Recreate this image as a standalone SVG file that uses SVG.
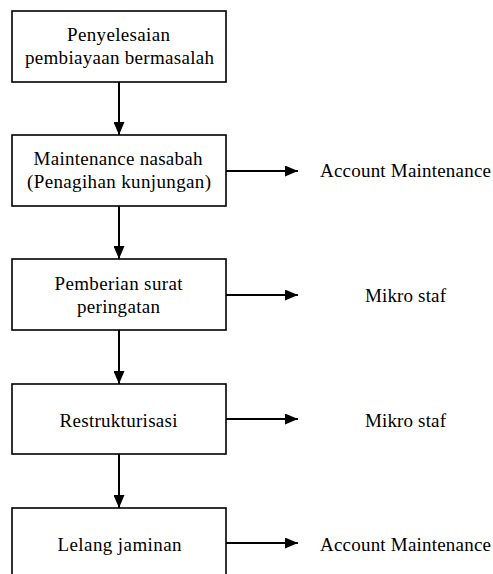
<svg xmlns="http://www.w3.org/2000/svg" width="493" height="574" viewBox="0 0 493 574">
<style>
.box{fill:#fff;stroke:#000;stroke-width:1.6}
.ln{stroke:#000;stroke-width:2;fill:none}
</style>
<defs>
<marker id="ah" markerWidth="13" markerHeight="11" refX="13" refY="5.5" orient="auto" markerUnits="userSpaceOnUse">
<path d="M0,0 L13,5.5 L0,11 Z" fill="#000"/>
</marker>
</defs>
<rect width="493" height="574" fill="#fff"/>
<g id="connectors">
<line class="ln" x1="119" y1="82" x2="119" y2="135" marker-end="url(#ah)"/>
<line class="ln" x1="119" y1="206" x2="119" y2="259" marker-end="url(#ah)"/>
<line class="ln" x1="119" y1="330" x2="119" y2="384" marker-end="url(#ah)"/>
<line class="ln" x1="119" y1="454" x2="119" y2="508" marker-end="url(#ah)"/>
<line class="ln" x1="226" y1="171" x2="298" y2="171" marker-end="url(#ah)"/>
<line class="ln" x1="226" y1="295" x2="298" y2="295" marker-end="url(#ah)"/>
<line class="ln" x1="226" y1="419" x2="298" y2="419" marker-end="url(#ah)"/>
<line class="ln" x1="226" y1="543" x2="298" y2="543" marker-end="url(#ah)"/>
</g>
<g font-family="Liberation Serif" font-size="19" fill="#000">
<g id="n1" text-anchor="middle">
<rect class="box" x="12" y="11" width="214" height="71"/>
<text x="118.5" y="41" textLength="103" lengthAdjust="spacing">Penyelesaian</text>
<text x="119.5" y="64" textLength="189" lengthAdjust="spacing">pembiayaan bermasalah</text>
</g>
<g id="n2" text-anchor="middle">
<rect class="box" x="12" y="135" width="214" height="71"/>
<text x="118" y="165" textLength="169" lengthAdjust="spacing">Maintenance nasabah</text>
<text x="119" y="188" textLength="184" lengthAdjust="spacing">(Penagihan kunjungan)</text>
</g>
<g id="n3" text-anchor="middle">
<rect class="box" x="12" y="259" width="214" height="71"/>
<text x="118.5" y="290" textLength="128" lengthAdjust="spacing">Pemberian surat</text>
<text x="118.5" y="313" textLength="83" lengthAdjust="spacing">peringatan</text>
</g>
<g id="n4" text-anchor="middle">
<rect class="box" x="12" y="384" width="214" height="70"/>
<text x="118.5" y="427" textLength="118" lengthAdjust="spacing">Restrukturisasi</text>
</g>
<g id="n5" text-anchor="middle">
<rect class="box" x="12" y="508" width="214" height="71"/>
<text x="119.5" y="551" textLength="124" lengthAdjust="spacing">Lelang jaminan</text>
</g>
<g id="r1"><text x="320" y="177" textLength="171" lengthAdjust="spacing">Account Maintenance</text></g>
<g id="r2"><text x="365" y="302" textLength="81" lengthAdjust="spacing">Mikro staf</text></g>
<g id="r3"><text x="365" y="427" textLength="81" lengthAdjust="spacing">Mikro staf</text></g>
<g id="r4"><text x="320" y="551" textLength="171" lengthAdjust="spacing">Account Maintenance</text></g>
</g>
</svg>
